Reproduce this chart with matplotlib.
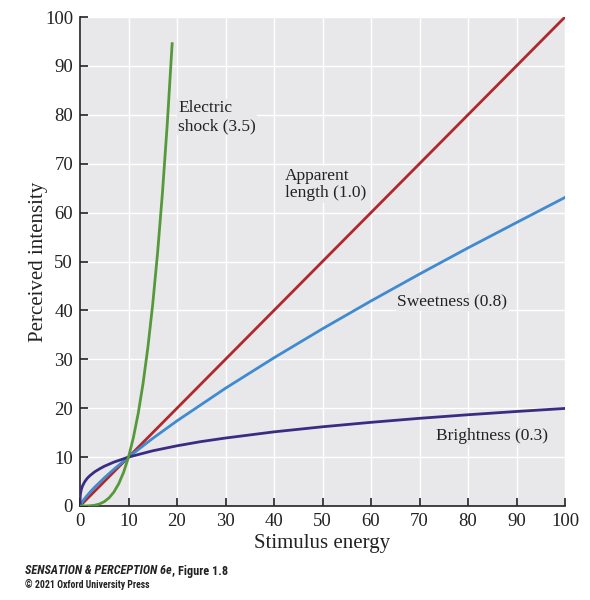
import matplotlib
matplotlib.use("Agg")
import matplotlib.pyplot as plt
from matplotlib import font_manager

# ---- data ----
length_x = [0, 100]
length_y = [0, 100]

sweet_x = [0, 0.5, 1, 2, 3, 5, 7, 10, 15, 20, 30, 40, 50, 60, 70, 80, 90, 100]
sweet_y = [0, 0.91, 1.58, 2.76, 3.82, 5.74, 7.52, 10, 13.83, 17.41, 24.08, 30.31,
           36.24, 41.93, 47.43, 52.78, 57.96, 63.10]

bright_x = [0, 0.05, 0.1, 0.25, 0.5, 1, 1.5, 2, 3, 4, 5, 7, 10, 15, 20, 25, 30, 40,
            50, 60, 70, 80, 90, 100]
bright_y = [0, 2.05, 2.51, 3.31, 4.07, 5.01, 5.67, 6.17, 6.97, 7.58, 8.12, 8.98, 10,
            11.29, 12.31, 13.18, 13.90, 15.16, 16.20, 17.11, 17.93, 18.66, 19.33, 19.95]

shock_x = [0, 1, 2, 3, 4, 5, 6, 7, 8, 9, 10, 11, 12, 13, 14, 15, 16, 17, 18, 19]
shock_y = [0, 0.003, 0.036, 0.148, 0.405, 0.884, 1.67, 2.87, 4.58, 6.92, 10, 13.96,
           18.93, 25.05, 32.47, 41.33, 51.81, 64.06, 78.24, 94.55]

xticks = list(range(0, 101, 10))
yticks = list(range(0, 101, 10))

labels = ["Electric\nshock (3.5)", "Apparent\nlength (1.0)", "Sweetness (0.8)", "Brightness (0.3)"]

# ---- style ----
serif = ["Liberation Serif", "DejaVu Serif"]
names = {f.name for f in font_manager.fontManager.ttflist}
narrow, fs1, fs2 = "Liberation Sans", 7.8, 6.5
for cand in ["Roboto Condensed", "Liberation Sans Narrow", "Open Sans Condensed",
             "Noto Sans Condensed", "DejaVu Sans Condensed"]:
    if cand in names:
        narrow, fs1, fs2 = cand, 8.8, 7.0
        break
bg = "#e8e8ea"
ink = "#222222"

fig = plt.figure(figsize=(5.9, 6.0), dpi=100)
ax = fig.add_axes([80 / 590, 94 / 600, 485 / 590, 489 / 600])
ax.set_facecolor(bg)

ax.plot(length_x, length_y, color="#b0282b", lw=2.0, zorder=3)
ax.plot(sweet_x, sweet_y, color="#3f8ad0", lw=2.0, zorder=3)
ax.plot(bright_x, bright_y, color="#3a2c82", lw=2.0, zorder=4)
ax.plot(shock_x, shock_y, color="#56993a", lw=2.0, zorder=5)

ax.set_xlim(0, 100)
ax.set_ylim(0, 100)
ax.set_xticks(xticks)
ax.set_yticks(yticks)
ax.grid(True, color="white", lw=1.0)
ax.set_axisbelow(True)
for s in ["top", "right"]:
    ax.spines[s].set_visible(False)
for s in ["left", "bottom"]:
    ax.spines[s].set_color(ink)
    ax.spines[s].set_linewidth(1.2)
ax.tick_params(direction="in", length=6, width=1.2, color=ink,
               labelsize=13.5, labelcolor=ink, pad=5)
for lab in ax.get_xticklabels() + ax.get_yticklabels():
    lab.set_family(serif)

ax.set_xlabel("Stimulus energy", family=serif, fontsize=15, color=ink, labelpad=3)
ax.set_ylabel("Perceived intensity", family=serif, fontsize=15, color=ink, labelpad=-2)

box = dict(facecolor=bg, edgecolor="none", pad=1)
ax.text(20.2, 83, labels[0], family=serif, fontsize=12.5, va="top", ha="left",
        color=ink, bbox=box, linespacing=1.15, zorder=6)
ax.text(42.3, 69.2, labels[1], family=serif, fontsize=12.5, va="top", ha="left",
        color=ink, bbox=box, linespacing=1.15, zorder=6)
ax.text(65.4, 41.7, labels[2], family=serif, fontsize=12.5, va="center", ha="left",
        color=ink, bbox=box, zorder=6)
ax.text(73.4, 14.3, labels[3], family=serif, fontsize=12.5, va="center", ha="left",
        color=ink, bbox=box, zorder=6)

x0 = 25 / 590
fig.text(x0, 1 - 571 / 600, "SENSATION & PERCEPTION 6e", family=narrow,
         style="italic", weight="bold", fontsize=fs1, color=ink, va="center", ha="left")
fig.canvas.draw()
r = fig.canvas.get_renderer()
first = fig.texts[0].get_window_extent(r)
fig.text(first.x1 / 590, 1 - 571 / 600, ", Figure 1.8", family=narrow, weight="bold",
         fontsize=fs1, color=ink, va="center", ha="left")
fig.text(x0, 1 - 584 / 600, "\u00a9 2021 Oxford University Press", family=narrow,
         weight="bold", fontsize=fs2, color=ink, va="center", ha="left")

fig.savefig("out.png", dpi=100, facecolor="white")
